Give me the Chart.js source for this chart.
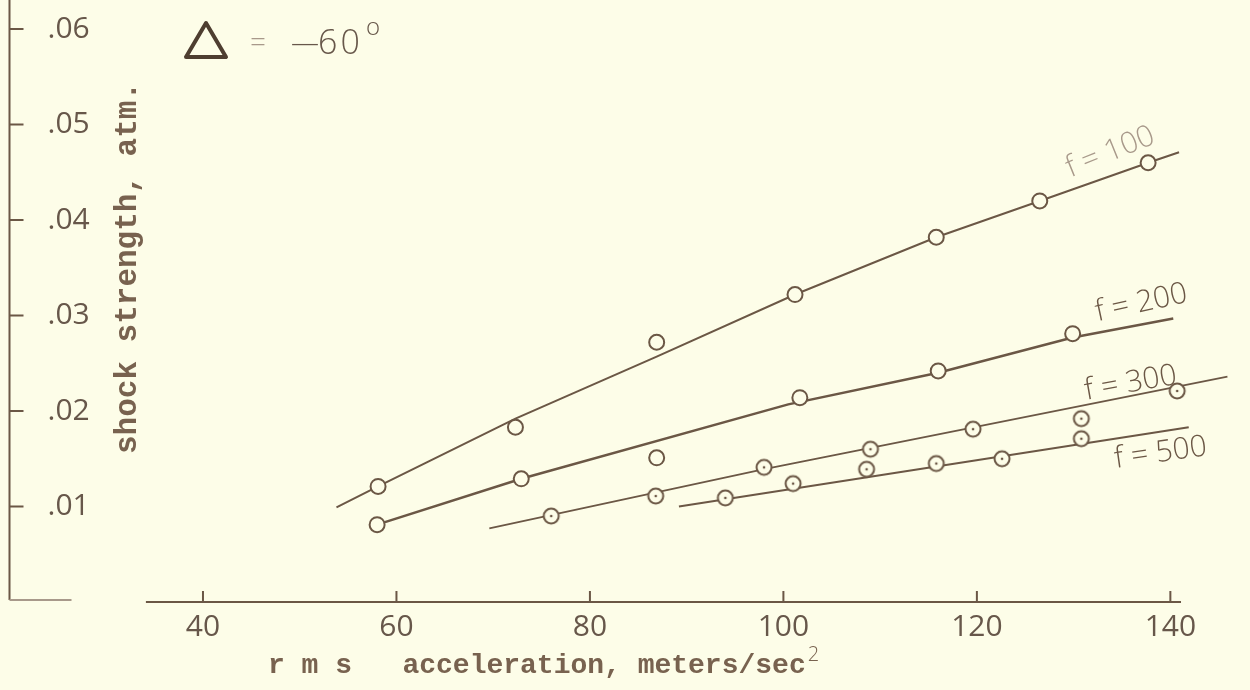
<!DOCTYPE html>
<html>
<head>
<meta charset="utf-8">
<title>shock strength vs rms acceleration</title>
<script src="https://cdn.jsdelivr.net/npm/chart.js@4.4.1/dist/chart.umd.min.js"></script>
<style>
  html, body { margin: 0; padding: 0; background: #fdfde8; }
  #chart { display: block; }
</style>
</head>
<body>
<canvas id="chart" width="1250" height="690"></canvas>
<script>
// shock strength vs rms acceleration, delta = -60 deg

// measured points, one pair of arrays per frequency
const F100_X = [58.1, 72.3, 86.9, 101.2, 115.8, 126.5, 137.7];
const F100_Y = [0.0121, 0.0183, 0.0272, 0.0322, 0.0382, 0.0420, 0.0460];
const F200_X = [58.0, 72.9, 86.9, 101.7, 116.0, 129.9];
const F200_Y = [0.0081, 0.0129, 0.0151, 0.0214, 0.0242, 0.0281];
const F300_X = [76.0, 86.8, 98.0, 109.0, 119.6, 130.8, 140.7];
const F300_Y = [0.0090, 0.0111, 0.0141, 0.0160, 0.0181, 0.0192, 0.0221];
const F500_X = [94.0, 101.0, 108.6, 115.8, 122.6, 130.8];
const F500_Y = [0.0109, 0.0124, 0.0139, 0.0145, 0.0150, 0.0171];

// hand-drawn fit lines
const F100_FIT_X = [53.8, 58.1, 72.3, 86.9, 101.2, 115.8, 126.5, 137.7, 140.9];
const F100_FIT_Y = [0.0099, 0.0121, 0.0192, 0.0257, 0.0322, 0.0382, 0.0420, 0.0460, 0.0471];
const F200_FIT_X = [58.0, 72.9, 100.5, 116.0, 129.9, 140.3];
const F200_FIT_Y = [0.0081, 0.0129, 0.0207, 0.0240, 0.0277, 0.0297];
const F300_FIT_X = [69.6, 97.9, 145.9];
const F300_FIT_Y = [0.0077, 0.0139, 0.0236];
const F500_FIT_X = [89.2, 141.9];
const F500_FIT_Y = [0.0100, 0.0183];

// axes
const XTICKS = [40, 60, 80, 100, 120, 140];
const YTICKS = [0.01, 0.02, 0.03, 0.04, 0.05, 0.06];
const YTICK_LABELS = ['.01', '.02', '.03', '.04', '.05', '.06'];
const X_TITLE = 'r m s   acceleration, meters/sec';
const Y_TITLE = 'shock strength, atm.';

const COLORS = {
  bg: '#fdfde8',
  ink: '#6b5745',
  dark: '#4e3e30',
  text: '#67574a',
  typed: '#78624f',
  faint: '#a8998a'
};

// label anchors in data units, angle in degrees
const LINE_LABELS = [
  { text: 'f = 100', x: 133.8, y: 0.0471, angle: -22, color: COLORS.faint },
  { text: 'f = 200', x: 137.0, y: 0.0313, angle: -12, color: COLORS.ink },
  { text: 'f = 300', x: 135.9, y: 0.0229, angle: -10, color: COLORS.ink },
  { text: 'f = 500', x: 139.0, y: 0.0156, angle: -8, color: COLORS.ink }
];

const zip = (xs, ys) => xs.map((x, i) => ({ x, y: ys[i] }));

function dotCircle() {
  const c = document.createElement('canvas');
  c.width = 22; c.height = 22;
  const g = c.getContext('2d');
  g.beginPath(); g.arc(11, 11, 7.5, 0, Math.PI * 2);
  g.fillStyle = COLORS.bg; g.fill();
  g.lineWidth = 2; g.strokeStyle = COLORS.ink; g.stroke();
  g.beginPath(); g.arc(11, 11, 1.3, 0, Math.PI * 2);
  g.fillStyle = COLORS.ink; g.fill();
  return c;
}
const DOT = dotCircle();

function fitLine(xs, ys, width) {
  return {
    type: 'line', data: zip(xs, ys), order: 2,
    borderColor: COLORS.ink, borderWidth: width,
    pointRadius: 0, fill: false, tension: 0
  };
}

function markers(xs, ys, dotted) {
  return {
    type: 'scatter', data: zip(xs, ys), order: 1,
    pointStyle: dotted ? DOT : 'circle',
    pointRadius: 7.5, pointBorderWidth: 2,
    pointBackgroundColor: COLORS.bg, pointBorderColor: COLORS.ink
  };
}

const decor = {
  id: 'decor',
  beforeDatasetsDraw(chart) {
    const { ctx, chartArea: a, scales: { x, y } } = chart;
    const y0 = y.getPixelForValue(0);
    ctx.save();
    ctx.strokeStyle = COLORS.ink;
    ctx.lineWidth = 2;
    ctx.beginPath();
    ctx.moveTo(a.left, 0); ctx.lineTo(a.left, y0 - 2);
    YTICKS.forEach(v => {
      const p = y.getPixelForValue(v);
      ctx.moveTo(a.left, p); ctx.lineTo(a.left + 14, p);
    });
    ctx.moveTo(x.getPixelForValue(34.1), y0); ctx.lineTo(x.getPixelForValue(141.1), y0);
    XTICKS.forEach(v => {
      const p = x.getPixelForValue(v);
      ctx.moveTo(p, y0); ctx.lineTo(p, y0 - 11);
    });
    ctx.stroke();
    ctx.strokeStyle = COLORS.faint;
    ctx.beginPath();
    ctx.moveTo(a.left, y0 - 2); ctx.lineTo(a.left + 62, y0 - 2);
    ctx.stroke();
    ctx.restore();
  },
  afterDraw(chart) {
    const { ctx, scales: { x, y } } = chart;
    ctx.save();
    ctx.fillStyle = COLORS.typed;
    ctx.textBaseline = 'middle';

    // axis titles (typewritten)
    ctx.font = 'bold 28px "Liberation Mono", monospace';
    ctx.textAlign = 'left';
    ctx.fillText(X_TITLE, 268, 666);
    const w = ctx.measureText(X_TITLE).width;
    ctx.font = '300 20px "Open Sans", sans-serif';
    ctx.fillText('2', 268 + w + 2, 655);

    ctx.save();
    ctx.translate(128, 268);
    ctx.rotate(-Math.PI / 2);
    ctx.textAlign = 'center';
    ctx.font = 'bold 31px "Liberation Mono", monospace';
    ctx.fillText(Y_TITLE, 0, 0);
    ctx.restore();

    // delta = -60 deg
    ctx.strokeStyle = COLORS.dark;
    ctx.lineWidth = 4;
    ctx.lineJoin = 'round';
    ctx.beginPath();
    ctx.moveTo(206, 23); ctx.lineTo(226, 57); ctx.lineTo(186, 57); ctx.closePath();
    ctx.stroke();
    ctx.fillStyle = COLORS.faint;
    ctx.font = '300 28px "Open Sans", sans-serif';
    ctx.textAlign = 'left';
    ctx.fillText('=', 250, 44);
    ctx.fillStyle = COLORS.text;
    ctx.fillText('\u2014', 291, 44);
    ctx.font = '300 34px "Open Sans", sans-serif';
    ctx.letterSpacing = '3px';
    ctx.fillText('60', 318, 44);
    ctx.letterSpacing = '0px';
    ctx.font = '300 24px "Open Sans", sans-serif';
    ctx.fillText('o', 366, 28);

    // curve labels
    ctx.textAlign = 'center';
    ctx.font = '300 30px "Open Sans", sans-serif';
    LINE_LABELS.forEach(l => {
      ctx.save();
      ctx.translate(x.getPixelForValue(l.x), y.getPixelForValue(l.y));
      ctx.rotate(l.angle * Math.PI / 180);
      ctx.fillStyle = l.color;
      ctx.fillText(l.text, 0, 0);
      ctx.restore();
    });
    ctx.restore();
  }
};

new Chart(document.getElementById('chart'), {
  type: 'scatter',
  data: {
    datasets: [
      fitLine(F100_FIT_X, F100_FIT_Y, 2),
      fitLine(F200_FIT_X, F200_FIT_Y, 2.5),
      fitLine(F300_FIT_X, F300_FIT_Y, 1.8),
      fitLine(F500_FIT_X, F500_FIT_Y, 2),
      markers(F100_X, F100_Y, false),
      markers(F200_X, F200_Y, false),
      markers(F300_X, F300_Y, true),
      markers(F500_X, F500_Y, true)
    ]
  },
  options: {
    responsive: false,
    animation: false,
    devicePixelRatio: 1,
    layout: { padding: { left: 8, top: 0, right: 0, bottom: 48 } },
    plugins: { legend: { display: false }, tooltip: { enabled: false } },
    scales: {
      x: {
        type: 'linear', min: 20, max: 147.25,
        grid: { display: false, drawTicks: false }, border: { display: false },
        afterBuildTicks: s => { s.ticks = XTICKS.map(v => ({ value: v })); },
        afterFit: s => { s.height = 40; s.paddingLeft = 0; s.paddingRight = 0; },
        ticks: { color: COLORS.text, padding: 7, font: { family: '"Open Sans", sans-serif', size: 30, weight: 400 } }
      },
      y: {
        type: 'linear', min: 0, max: 0.06205,
        grid: { display: false, drawTicks: false }, border: { display: false },
        afterBuildTicks: s => { s.ticks = YTICKS.map(v => ({ value: v })); },
        afterFit: s => { s.width = 0; s.paddingTop = 0; s.paddingBottom = 0; },
        ticks: {
          mirror: true, padding: 38, color: COLORS.text,
          font: { family: '"Open Sans", sans-serif', size: 30, weight: 400 },
          callback: (v, i) => YTICK_LABELS[i]
        }
      }
    }
  },
  plugins: [decor]
});
</script>
</body>
</html>
